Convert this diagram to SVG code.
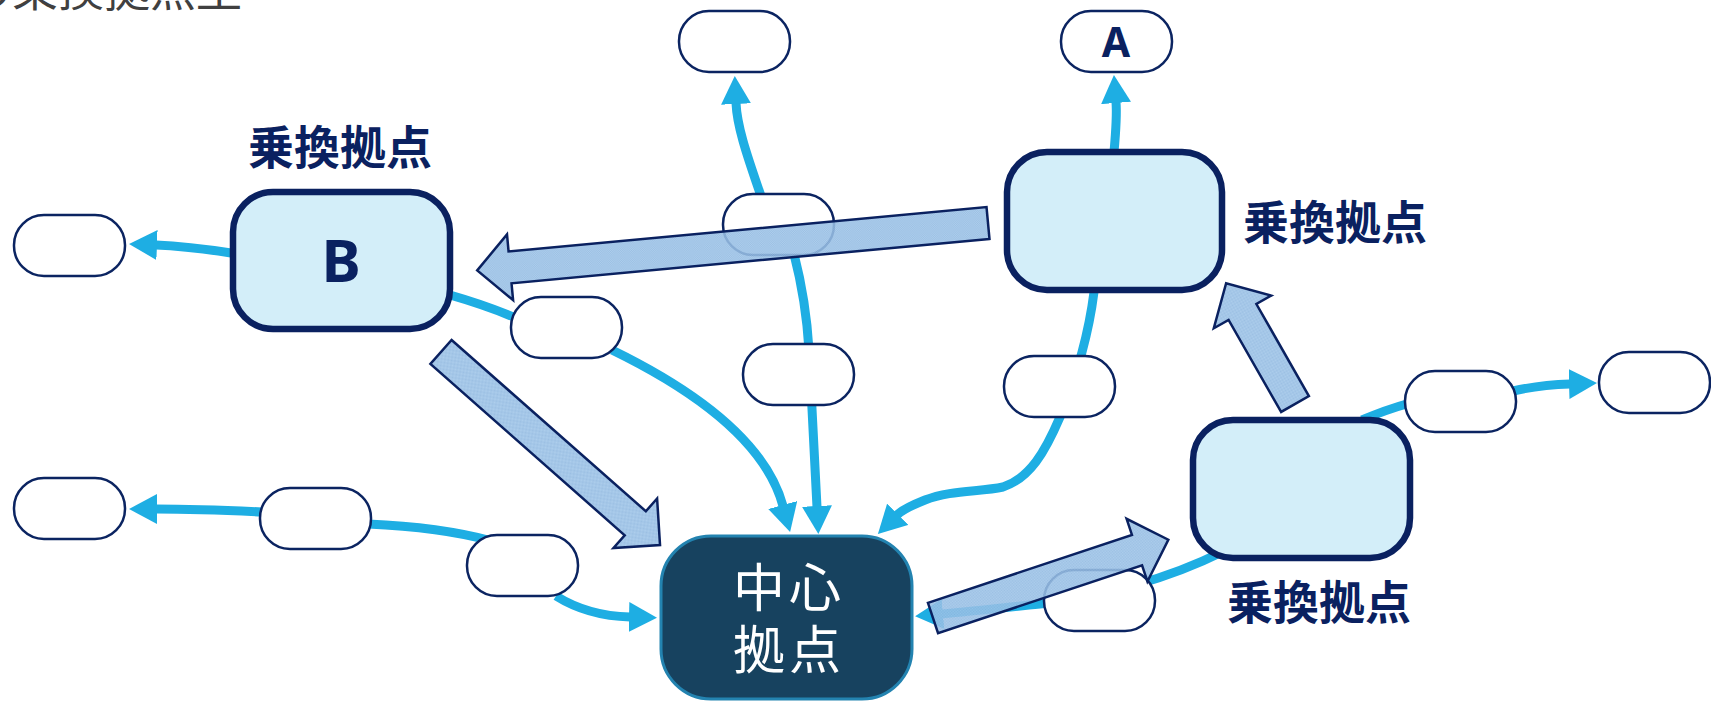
<svg xmlns="http://www.w3.org/2000/svg" width="1711" height="701" viewBox="0 0 1711 701">
<style>
.ln{fill:none;stroke:#1EAEE3;stroke-width:9;}
.pill{fill:#FFFFFF;stroke:#0B2461;stroke-width:2.5;}
.box{fill:#D3EEF9;stroke:#0A2160;stroke-width:6.5;}
.ctr{fill:#17425F;stroke:#2383B0;stroke-width:3;}
.lbl{font-family:"Noto Sans CJK JP","Noto Sans",sans-serif;font-weight:700;font-size:46px;fill:#0A2160;text-anchor:middle;}
.let{font-family:"Noto Sans","Liberation Sans",sans-serif;font-weight:700;fill:#0A2160;text-anchor:middle;}
.ctxt{font-family:"Noto Sans CJK JP",sans-serif;font-size:52px;fill:#FFFFFF;text-anchor:middle;letter-spacing:4px;}
.blk{fill:url(#dots);fill-opacity:0.88;stroke:#0A2160;stroke-width:2.5;stroke-linejoin:miter;}
</style>
<defs>
<pattern id="dots" width="2" height="2" patternUnits="userSpaceOnUse">
<rect width="2" height="2" fill="#A3C8EA"/>
<rect width="1" height="1" fill="#8DB6DF"/>
<rect x="1" y="1" width="1" height="1" fill="#8DB6DF"/>
</pattern>
<marker id="ah" viewBox="0 0 28 30" markerWidth="28" markerHeight="30" refX="1" refY="15" orient="auto" markerUnits="userSpaceOnUse">
<path d="M0,0 L28,15 L0,30 z" fill="#1EAEE3"/>
</marker>
</defs>
<rect width="1711" height="701" fill="#FFFFFF"/>
<text x="-34" y="6" font-family="Noto Sans CJK JP, sans-serif" font-size="46" fill="#404040">の乗換拠点型</text>

<g id="connectors">
<path class="ln" d="M231,253 C205,249 180,246 156,245" marker-end="url(#ah)"/>
<path class="ln" d="M262,512 C220,510 190,509 156,509" marker-end="url(#ah)"/>
<path class="ln" d="M492,541 Q440,527 368,524"/>
<path class="ln" d="M556,596 Q588,616 630,617" marker-end="url(#ah)"/>
<path class="ln" d="M450,295 Q485,305 516,318"/>
<path class="ln" d="M612,350 C690,388 765,440 783,506" marker-end="url(#ah)"/>
<path class="ln" d="M761,196 C745,150 737,125 736,103" marker-end="url(#ah)"/>
<path class="ln" d="M794,254 Q806,300 809,350 L817,507" marker-end="url(#ah)"/>
<path class="ln" d="M1114,152 C1116,130 1117,115 1116,102" marker-end="url(#ah)"/>
<path class="ln" d="M1094,292 C1088,340 1075,380 1060,417 C1045,452 1030,478 1003,487 C980,492 950,490 925,500 C910,506 902,510 897,515" marker-end="url(#ah)"/>
<path class="ln" d="M1362,420 Q1385,410 1410,403"/>
<path class="ln" d="M1513,391 Q1540,385 1570,384" marker-end="url(#ah)"/>
<path class="ln" d="M1222,552 C1170,578 1100,598 1040,604 C1000,608 965,612 942,614" marker-end="url(#ah)"/>
</g>

<g id="pill-1"><rect class="pill" x="14" y="215" width="111" height="61" rx="30"/></g>
<g id="pill-2"><rect class="pill" x="14" y="478" width="111" height="61" rx="30"/></g>
<g id="pill-3"><rect class="pill" x="260" y="488" width="111" height="61" rx="30"/></g>
<g id="pill-4"><rect class="pill" x="467" y="535" width="111" height="61" rx="30"/></g>
<g id="pill-5"><rect class="pill" x="511" y="297" width="111" height="61" rx="30"/></g>
<g id="pill-6"><rect class="pill" x="743" y="344" width="111" height="61" rx="30"/></g>
<g id="pill-7"><rect class="pill" x="723" y="194" width="111" height="61" rx="30"/></g>
<g id="pill-8"><rect class="pill" x="679" y="11" width="111" height="61" rx="30"/></g>
<g id="pill-A"><rect class="pill" x="1061" y="11" width="111" height="61" rx="30"/><text class="let" x="1116" y="57" font-size="41">A</text></g>
<g id="pill-10"><rect class="pill" x="1004" y="356" width="111" height="61" rx="30"/></g>
<g id="pill-11"><rect class="pill" x="1044" y="570" width="111" height="61" rx="30"/></g>
<g id="pill-12"><rect class="pill" x="1405" y="371" width="111" height="61" rx="30"/></g>
<g id="pill-13"><rect class="pill" x="1599" y="352" width="111" height="61" rx="30"/></g>

<g id="hub-B"><rect class="box" x="233" y="192" width="217" height="137" rx="40"/><text class="let" x="341" y="282" font-size="59">B</text><text class="lbl" x="340" y="164">乗換拠点</text></g>
<g id="hub-top-right"><rect class="box" x="1007" y="152" width="215" height="138" rx="40"/><text class="lbl" x="1335" y="239">乗換拠点</text></g>
<g id="hub-bottom-right"><rect class="box" x="1193" y="420" width="217" height="138" rx="40"/><text class="lbl" x="1319" y="619">乗換拠点</text></g>
<g id="center"><rect class="ctr" x="661" y="536" width="251" height="163" rx="50"/><text class="ctxt" x="789" y="607">中心</text><text class="ctxt" x="789" y="669">拠点</text></g>

<g id="flows">
<polygon class="blk" transform="translate(441,352) rotate(41.4)" points="0,-16 259,-16 259,-33 292,0 259,33 259,16 0,16"/>
<polygon class="blk" transform="translate(988,223) rotate(174.7)" points="0,-16 480,-16 480,-33 513,0 480,33 480,16 0,16"/>
<polygon class="blk" transform="translate(1295,404) rotate(240.3)" points="0,-16 106,-16 106,-33 139,0 106,33 106,16 0,16"/>
<polygon class="blk" transform="translate(933,618) rotate(-18.4)" points="0,-16 215,-16 215,-33 248,0 215,33 215,16 0,16"/>
</g>
</svg>
